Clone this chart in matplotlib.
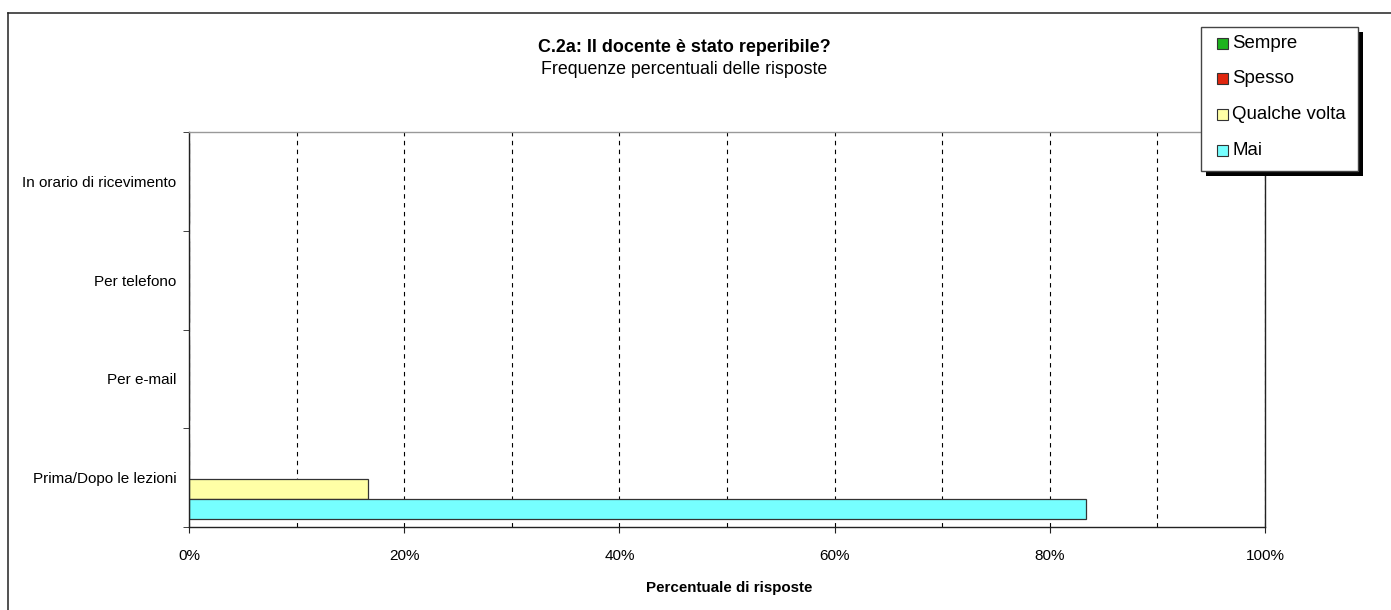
import matplotlib
matplotlib.use('Agg')
import matplotlib.pyplot as plt
from matplotlib.patches import Rectangle
from matplotlib.lines import Line2D
import numpy as np

plt.rcParams['font.family'] = ['Liberation Sans', 'DejaVu Sans']

# data (percent of answers)
categories = ['Prima/Dopo le lezioni', 'Per e-mail', 'Per telefono', 'In orario di ricevimento']
series = ['Sempre', 'Spesso', 'Qualche volta', 'Mai']
colors = ['#1DB31D', '#E0260E', '#FFFFA6', '#76FFFF']
sempre = [0, 0, 0, 0]
spesso = [0, 0, 0, 0]
qualche = [16.67, 0, 0, 0]
mai = [83.33, 0, 0, 0]

W, H = 1391, 610
fig = plt.figure(figsize=(W / 100, H / 100), dpi=100)
ax = fig.add_axes([189 / W, 1 - 527 / H, (1265 - 189) / W, (527 - 132) / H])

y = np.arange(len(categories))
h = 0.203
offsets = [0.29, 0.087, -0.116, -0.319]
for vals, off, c, lab in zip([sempre, spesso, qualche, mai], offsets, colors, series):
    ax.barh(y + off, vals, height=h, color=c, edgecolor='#333333', linewidth=0.9, label=lab)

ax.set_xlim(0, 100)
ax.set_ylim(-0.5, 3.5)
ax.set_xticks(np.arange(0, 101, 20))
ax.set_xticklabels(['{}%'.format(v) for v in range(0, 101, 20)])
ax.set_xticks(np.arange(0, 101, 10), minor=True)
ax.grid(axis='x', which='both', color='black', linestyle=(0, (4, 4)), linewidth=0.8)
ax.set_axisbelow(True)
ax.tick_params(axis='x', which='major', direction='out', length=4, labelsize=11, pad=11.5, color='#222222')
ax.tick_params(axis='x', which='minor', length=0)

ax.set_yticks(y)
ax.set_yticklabels(categories)
ax.set_yticks(np.arange(-0.5, 4, 1), minor=True)
ax.tick_params(axis='y', which='major', length=0, labelsize=11, pad=9)
ax.tick_params(axis='y', which='minor', direction='out', length=4, color='#222222')

for s in ['left', 'bottom', 'right']:
    ax.spines[s].set_color('#222222')
    ax.spines[s].set_linewidth(1.0)
ax.spines['top'].set_color('#999999')
ax.spines['top'].set_linewidth(1.0)

# titles
fig.text(684 / W, 1 - 48 / H, 'C.2a: Il docente è stato reperibile?', ha='center', va='center',
         fontsize=12.9, fontweight='bold')
fig.text(684 / W, 1 - 69 / H, 'Frequenze percentuali delle risposte', ha='center', va='center',
         fontsize=12.8)
fig.text(729 / W, 1 - 588 / H, 'Percentuale di risposte', ha='center', va='center',
         fontsize=10.9, fontweight='bold')

# outer frame (only left and top visible)
fig.add_artist(Line2D([8 / W, 8 / W], [0, 1 - 13 / H], color='#222222', linewidth=1.1))
fig.add_artist(Line2D([8 / W, 1], [1 - 13 / H, 1 - 13 / H], color='#222222', linewidth=1.1))

# legend box with shadow
lx0, lx1, ly0, ly1 = 1201, 1358, 27, 171
fig.add_artist(Rectangle(((lx0 + 5) / W, 1 - (ly1 + 5) / H), (lx1 - lx0) / W, (ly1 - ly0) / H,
                         facecolor='black', edgecolor='none', zorder=5))
fig.add_artist(Rectangle((lx0 / W, 1 - ly1 / H), (lx1 - lx0) / W, (ly1 - ly0) / H,
                         facecolor='white', edgecolor='#444444', linewidth=1.0, zorder=6))
for i, (lab, c) in enumerate(zip(series, colors)):
    yc = 43 + 35.7 * i
    fig.add_artist(Rectangle((1217 / W, 1 - (yc + 5.5) / H), 11 / W, 11 / H,
                             facecolor=c, edgecolor='#333333', linewidth=0.8, zorder=7))
    fig.text(1232 / W, 1 - yc / H, lab, ha='left', va='center', fontsize=13.4, zorder=7)

fig.savefig('out.png', dpi=100)
